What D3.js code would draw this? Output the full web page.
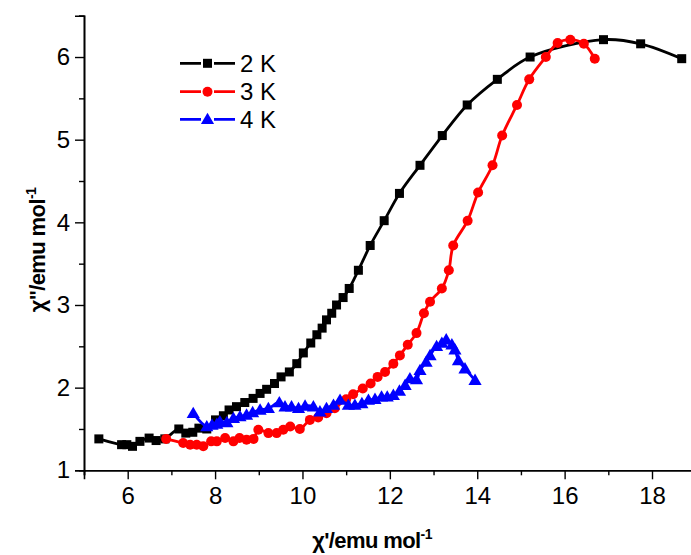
<!DOCTYPE html>
<html><head><meta charset="utf-8">
<script src="https://cdn.jsdelivr.net/npm/d3@7"></script>
<style>body{margin:0;background:#fff}svg{display:block}text{font-family:"Liberation Sans",Arial,sans-serif}</style>
</head><body>
<svg id="c" width="691" height="555"></svg>
<script>
const seriesNames = ["2 K", "3 K", "4 K"];
const seriesColors = ["#000000", "#ff0000", "#0000ff"];
const seriesMarkers = ["square", "circle", "triangle"];

const x2K = [5.34,5.86,5.98,6.11,6.28,6.49,6.65,6.85,7.17,7.33,7.49,7.63,7.81,8.01,8.19,8.32,8.49,8.68,8.87,9.03,9.18,9.36,9.51,9.70,9.87,10.02,10.19,10.33,10.45,10.55,10.67,10.78,10.93,11.07,11.28,11.55,11.87,12.22,12.69,13.20,13.77,14.46,15.21,16.89,17.74,18.68];
const y2K = [1.38,1.31,1.31,1.29,1.35,1.39,1.36,1.38,1.50,1.45,1.46,1.51,1.50,1.61,1.66,1.73,1.77,1.82,1.87,1.93,1.98,2.05,2.13,2.19,2.29,2.42,2.54,2.64,2.72,2.82,2.90,3.00,3.09,3.20,3.42,3.72,4.02,4.35,4.69,5.05,5.42,5.73,6.00,6.21,6.16,5.98];

const x3K = [6.88,7.27,7.43,7.58,7.73,7.91,8.04,8.23,8.42,8.56,8.72,8.88,8.99,9.22,9.41,9.56,9.72,9.94,10.17,10.36,10.55,10.74,11.00,11.16,11.38,11.56,11.72,11.89,12.08,12.23,12.41,12.61,12.78,12.92,13.19,13.35,13.45,13.78,14.02,14.35,14.57,14.91,15.19,15.57,15.84,16.13,16.44,16.69];
const y3K = [1.38,1.33,1.31,1.31,1.29,1.35,1.35,1.39,1.35,1.39,1.37,1.38,1.49,1.45,1.45,1.49,1.53,1.50,1.61,1.64,1.69,1.75,1.86,1.92,1.99,2.05,2.13,2.19,2.29,2.39,2.52,2.66,2.90,3.04,3.20,3.42,3.72,4.02,4.36,4.69,5.05,5.42,5.73,6.00,6.17,6.21,6.16,5.98];

const x4K = [7.50,7.81,7.93,8.04,8.11,8.27,8.42,8.57,8.72,8.86,9.03,9.22,9.47,9.60,9.75,9.91,10.06,10.25,10.40,10.55,10.71,10.86,11.05,11.20,11.36,11.51,11.66,11.81,11.94,12.08,12.22,12.35,12.46,12.61,12.69,12.83,12.92,13.07,13.19,13.29,13.42,13.49,13.57,13.72,13.95];
const y4K = [1.69,1.53,1.55,1.56,1.59,1.58,1.63,1.65,1.67,1.70,1.73,1.75,1.82,1.77,1.77,1.75,1.78,1.77,1.71,1.75,1.79,1.85,1.79,1.79,1.81,1.85,1.86,1.89,1.89,1.91,1.96,2.03,2.11,2.10,2.21,2.31,2.39,2.50,2.54,2.58,2.52,2.46,2.33,2.23,2.09];

const xTicks = [6, 8, 10, 12, 14, 16, 18];
const yTicks = [1, 2, 3, 4, 5, 6];
const xTitle = "χ'/emu mol";
const yTitle = "χ''/emu mol";
const titleSup = "-1";

const seriesX = [x2K, x3K, x4K];
const seriesY = [y2K, y3K, y4K];

const svg = d3.select("#c");
const x = d3.scaleLinear().domain([5, 19]).range([84, 695.7]);
const y = d3.scaleLinear().domain([1, 6.5]).range([470.3, 15.7]);

const xMinor = d3.range(5, 19.01, 1).filter(v => !xTicks.includes(v));
const yMinor = d3.range(1.5, 6.51, 1);

const gx = svg.append("g").attr("transform", "translate(0,470.3)");
gx.call(d3.axisBottom(x).tickValues(xTicks).tickSize(9).tickPadding(8).tickFormat(d3.format("d")));
gx.append("g").call(d3.axisBottom(x).tickValues(xMinor).tickSize(5).tickFormat(""));
gx.selectAll(".domain").attr("stroke", "#000").attr("stroke-width", 1.6);
gx.selectAll(".tick line").attr("stroke", "#000").attr("stroke-width", 1.4);
gx.selectAll("text").attr("font-size", 24).attr("fill", "#000");

const gy = svg.append("g").attr("transform", "translate(84,0)");
gy.call(d3.axisLeft(y).tickValues(yTicks).tickSize(9).tickPadding(5).tickFormat(d3.format("d")));
gy.append("g").call(d3.axisLeft(y).tickValues(yMinor).tickSize(5).tickFormat(""));
gy.selectAll(".domain").attr("stroke", "#000").attr("stroke-width", 1.6);
gy.selectAll(".tick line").attr("stroke", "#000").attr("stroke-width", 1.4);
gy.selectAll("text").attr("font-size", 24).attr("fill", "#000");

const xt = svg.append("text").attr("x", 372).attr("y", 548).attr("text-anchor", "middle")
  .attr("font-size", 22).attr("font-weight", "bold").attr("letter-spacing", -0.6).text(xTitle);
xt.append("tspan").attr("dy", -9).attr("font-size", 14).text(titleSup);
const yt = svg.append("text").attr("transform", "translate(45,250) rotate(-90)").attr("text-anchor", "middle")
  .attr("font-size", 22).attr("font-weight", "bold").attr("letter-spacing", -0.6).text(yTitle);
yt.append("tspan").attr("dy", -9).attr("font-size", 14).text(titleSup);

function marker(g, type, cx, cy, color) {
  if (type === "square") g.append("rect").attr("x", cx - 4.5).attr("y", cy - 4.5).attr("width", 9).attr("height", 9).attr("fill", color);
  else if (type === "circle") g.append("circle").attr("cx", cx).attr("cy", cy).attr("r", 5).attr("fill", color);
  else g.append("path").attr("d", d3.symbol(d3.symbolTriangle, 75)()).attr("transform", `translate(${cx},${cy + 1})`).attr("fill", color);
}

const line = d3.line().x(d => x(d[0])).y(d => y(d[1])).curve(d3.curveCatmullRom.alpha(0.5));
seriesNames.forEach((name, i) => {
  const pts = seriesX[i].map((v, j) => [v, seriesY[i][j]]);
  const g = svg.append("g");
  g.append("path").attr("d", line(pts)).attr("fill", "none").attr("stroke", seriesColors[i]).attr("stroke-width", 2.8);
  pts.forEach(p => marker(g, seriesMarkers[i], x(p[0]), y(p[1]), seriesColors[i]));
});

const legY = [63.3, 91.7, 119.3];
seriesNames.forEach((name, i) => {
  const g = svg.append("g");
  g.append("line").attr("x1", 180).attr("x2", 235).attr("y1", legY[i]).attr("y2", legY[i]).attr("stroke", seriesColors[i]).attr("stroke-width", 2.8);
  g.append("rect").attr("x", 201).attr("y", legY[i] - 7).attr("width", 13).attr("height", 14).attr("fill", "#fff");
  marker(g, seriesMarkers[i], 207.5, legY[i], seriesColors[i]);
  g.append("text").attr("x", 240).attr("y", legY[i] + 8.5).attr("font-size", 24).attr("fill", "#000").text(name);
});
</script>
</body></html>
